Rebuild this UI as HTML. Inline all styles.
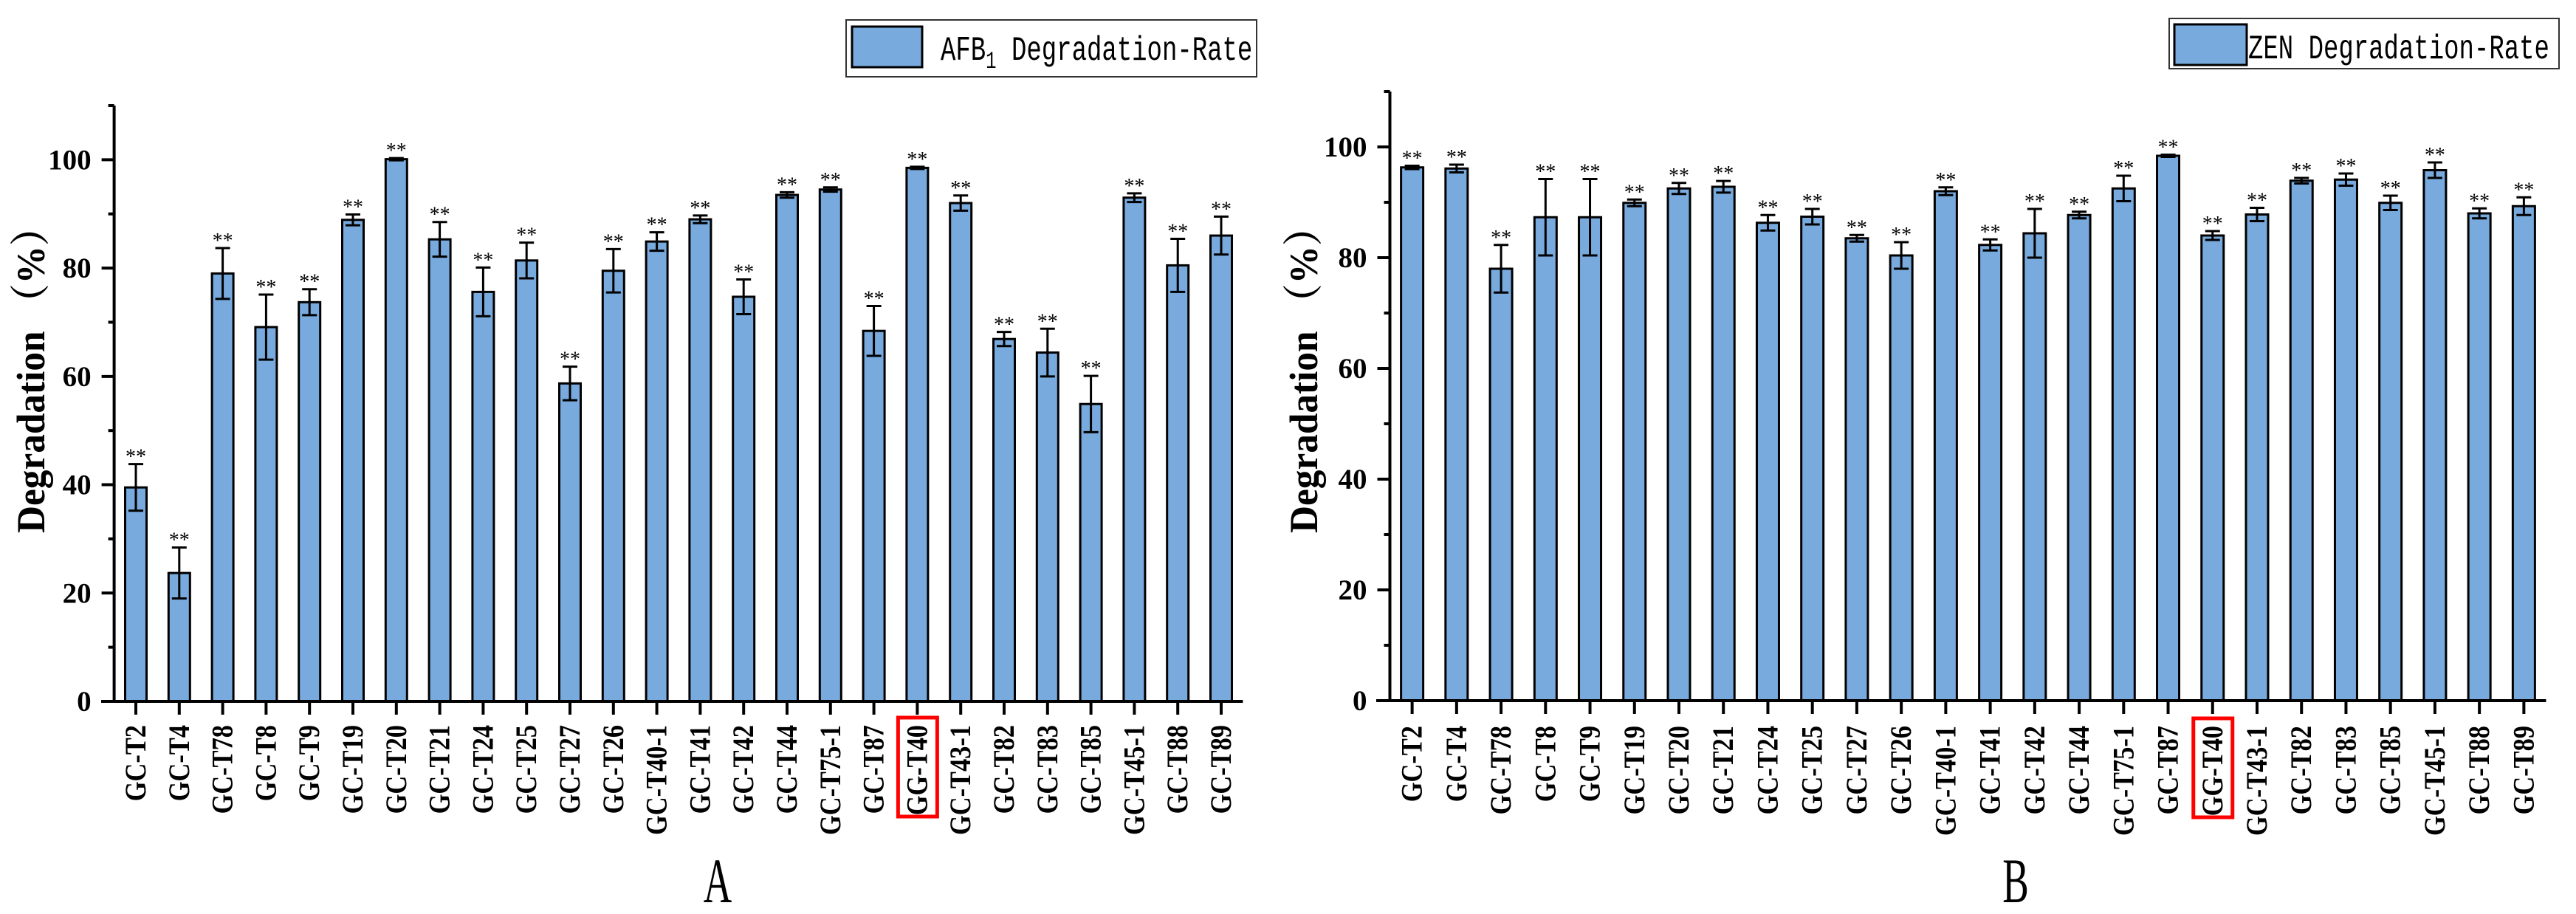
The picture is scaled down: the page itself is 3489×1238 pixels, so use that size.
<!DOCTYPE html>
<html><head><meta charset="utf-8"><style>
html,body{margin:0;padding:0;background:#fff;}
svg{display:block;}
</style></head><body>
<svg id="fig" xmlns="http://www.w3.org/2000/svg" width="3489" height="1238" viewBox="0 0 3489 1238">
<rect x="0" y="0" width="3489" height="1238" fill="#fff"/>
<g id="panelA"></g>
<g id="panelB"></g>
</svg>
<script>
const categories = ["GC-T2","GC-T4","GC-T78","GC-T8","GC-T9","GC-T19","GC-T20","GC-T21","GC-T24","GC-T25","GC-T27","GC-T26","GC-T40-1","GC-T41","GC-T42","GC-T44","GC-T75-1","GC-T87","GG-T40","GC-T43-1","GC-T82","GC-T83","GC-T85","GC-T45-1","GC-T88","GC-T89"];
const afbValues = [39.5,23.7,79.0,69.1,73.7,88.9,100.1,85.3,75.6,81.4,58.7,79.5,84.9,89.0,74.7,93.5,94.5,68.4,98.5,92.0,66.9,64.4,54.9,93.0,80.5,86.0];
const afbErrors = [4.3,4.7,4.7,6.0,2.4,1.0,0.2,3.2,4.5,3.3,3.1,4.0,1.7,0.7,3.2,0.5,0.4,4.6,0.2,1.4,1.3,4.4,5.2,0.8,4.9,3.5];
const zenValues = [96.3,96.1,78.0,87.3,87.3,89.9,92.5,92.8,86.3,87.4,83.5,80.4,92.0,82.3,84.4,87.7,92.5,98.4,84.0,87.8,93.9,94.1,89.9,95.8,88.0,89.3];
const zenErrors = [0.3,0.7,4.3,6.9,6.9,0.6,1.0,1.05,1.4,1.4,0.6,2.4,0.7,1.0,4.4,0.6,2.3,0.2,0.8,1.2,0.5,1.1,1.3,1.4,0.9,1.6];
const majorTicks = [0,20,40,60,80,100];
const minorTicks = [10,30,50,70,90,110];
const highlighted = "GG-T40";

const NS = "http://www.w3.org/2000/svg";
function mk(parent, tag, attrs, text){
  const el = document.createElementNS(NS, tag);
  for (const k in attrs) el.setAttribute(k, attrs[k]);
  if (text !== undefined) el.textContent = text;
  parent.appendChild(el);
  return el;
}

function drawChart(g, cfg, values, errors){
  const yScale = v => cfg.y0 - (v - 0) * (cfg.y0 - cfg.yTop) / 110;
  const band = (cfg.xEnd - cfg.xStart) / categories.length;
  const xScale = i => cfg.xStart + (i + 0.5) * band;
  const barW = cfg.barW;

  // bars
  values.forEach((v, i) => {
    const cx = xScale(i);
    const r = mk(g, 'rect', {x: cx - barW/2, y: yScale(v), width: barW, height: cfg.y0 - yScale(v), fill: '#78aade', stroke: '#000', 'stroke-width': 3});
    
    
    const e = errors[i];
    const top = yScale(v + e), bot = yScale(v - e);
    const eg = mk(g, 'g', {stroke: '#000', 'stroke-width': 3});
    
    
    mk(eg, 'line', {x1: cx, x2: cx, y1: top, y2: bot});
    mk(eg, 'line', {x1: cx - 10, x2: cx + 10, y1: top, y2: top});
    mk(eg, 'line', {x1: cx - 10, x2: cx + 10, y1: bot, y2: bot});
    const s = mk(g, 'text', {x: cx, y: top - 1, 'text-anchor': 'middle', 'font-family': '"Liberation Serif", serif', 'font-size': 28, fill: '#000'}, '**');
    
    
  });

  // axes
  const ya = mk(g, 'line', {x1: cfg.xStart, x2: cfg.xStart, y1: cfg.yTop, y2: cfg.y0 + 2, stroke: '#000', 'stroke-width': 4});
  
  
  const xa = mk(g, 'line', {x1: cfg.axisLeft, x2: cfg.xEnd, y1: cfg.y0, y2: cfg.y0, stroke: '#000', 'stroke-width': 4});
  
  

  majorTicks.forEach(t => {
    const y = yScale(t);
    mk(g, 'line', {x1: cfg.xStart - 17, x2: cfg.xStart, y1: y, y2: y, stroke: '#000', 'stroke-width': 4});
    const lb = mk(g, 'text', {x: cfg.xStart - 31, y: y + 13, 'text-anchor': 'end', 'font-family': '"Liberation Serif", serif', 'font-weight': 'bold', 'font-size': 39, fill: '#000'}, String(t));
    
    
  });
  minorTicks.forEach(t => {
    const y = yScale(t);
    mk(g, 'line', {x1: cfg.xStart - 8, x2: cfg.xStart, y1: y, y2: y, stroke: '#000', 'stroke-width': 4});
  });

  categories.forEach((c, i) => {
    const cx = xScale(i);
    mk(g, 'line', {x1: cx, x2: cx, y1: cfg.y0, y2: cfg.y0 + 18, stroke: '#000', 'stroke-width': 4});
    const t = mk(g, 'text', {transform: 'translate(' + (cx + 13) + ',' + cfg.labelTop + ') rotate(-90) scale(0.86,1)', 'text-anchor': 'end', 'font-family': '"Liberation Serif", serif', 'font-weight': 'bold', 'font-size': 40, fill: '#000'}, c);
    
    
    if (c === highlighted) {
      const hb = mk(g, 'rect', {x: cx - 26, y: cfg.labelTop - 10, width: 53, height: 134, fill: 'none', stroke: '#ff0000', 'stroke-width': 5});
      
      
    }
  });

  // y-axis title
  const yt = mk(g, 'text', {transform: 'translate(' + cfg.titleX + ',722) rotate(-90) scale(0.95,1)', 'text-anchor': 'start', 'font-family': '"Liberation Serif", "Noto Serif CJK SC", serif', 'font-weight': 'bold', 'font-size': 54, fill: '#000'}, 'Degradation （%）');
  
  

  // panel letter
  const pl = mk(g, 'text', {transform: 'translate(' + cfg.letterX + ',1222) scale(0.62,1)', 'text-anchor': 'middle', 'font-family': '"Liberation Serif", serif', 'font-size': 86, fill: '#000'}, cfg.letter);
  
  
}

function drawLegend(g, box, sw, textX, baseline, parts){
  const lg = mk(g, 'g', {});
  
  
  mk(lg, 'rect', {x: box[0], y: box[1], width: box[2], height: box[3], fill: '#fff', stroke: '#333', 'stroke-width': 2});
  const s = mk(lg, 'rect', {x: sw[0], y: sw[1], width: sw[2], height: sw[3], fill: '#78aade', stroke: '#000', 'stroke-width': 3});
  
  
  const t = mk(lg, 'text', {transform: 'translate(' + textX + ',' + baseline + ') scale(1,1.35)', 'font-family': '"Liberation Mono", monospace', 'font-size': 34, fill: '#000'});
  
  
  parts.forEach(p => {
    const ts = mk(t, 'tspan', p.sub ? {'font-size': 24, dy: 8} : (p.after ? {dy: -8} : {}), p.text);
  });
}

const gA = document.getElementById('panelA');
drawChart(gA, {xStart: 154.6, xEnd: 1683.4, axisLeft: 137, y0: 950, yTop: 143, barW: 29, labelTop: 982, titleX: 60, letterX: 972, letter: 'A'}, afbValues, afbErrors);
drawLegend(gA, [1146, 27, 556, 77], [1154, 36, 95, 55], 1274, 81, [{text: 'AFB'}, {text: '1', sub: true}, {text: ' Degradation-Rate', after: true}]);

const gB = document.getElementById('panelB');
drawChart(gB, {xStart: 1882.5, xEnd: 3448.5, axisLeft: 1864, y0: 949, yTop: 124, barW: 30, labelTop: 983, titleX: 1784, letterX: 2730, letter: 'B'}, zenValues, zenErrors);
drawLegend(gB, [2938, 25, 528, 68], [2945, 33, 98, 55], 3045, 79, [{text: 'ZEN Degradation-Rate'}]);
</script>
</body></html>
